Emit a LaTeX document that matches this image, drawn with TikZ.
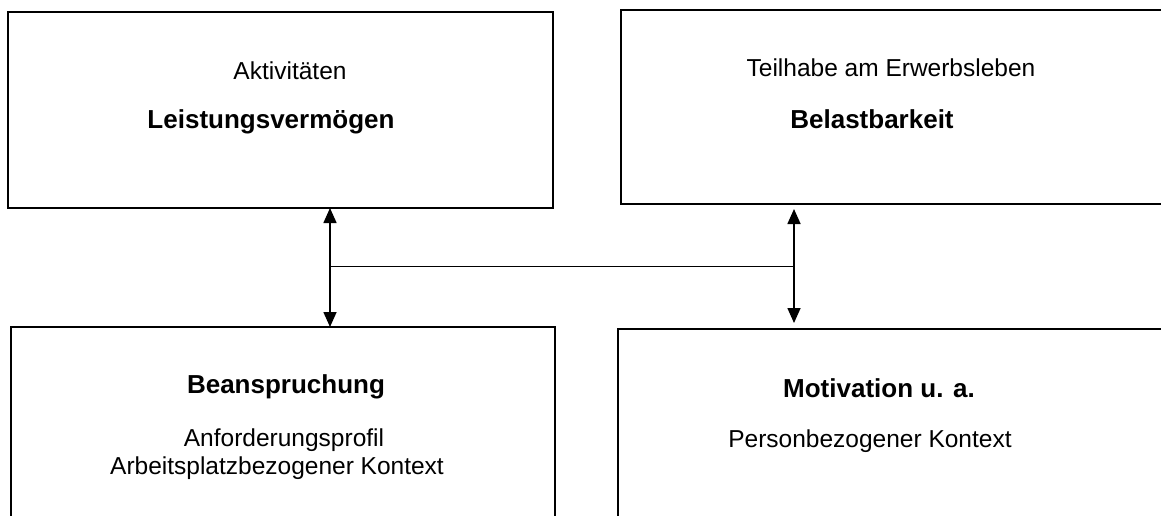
\documentclass[tikz,border=0pt]{standalone}
\usepackage{fontspec}
\setmainfont{Liberation Sans}
\usetikzlibrary{arrows.meta,fit}
\begin{document}
\begin{tikzpicture}[x=1pt,y=-1pt,
  box/.style={draw=black,line width=2pt,inner sep=0pt,rectangle},
  reg/.style={anchor=base,inner sep=0pt,font=\fontsize{24.5}{29}\selectfont},
  bld/.style={anchor=base,inner sep=0pt,font=\fontsize{26}{31}\selectfont\bfseries},
  dbl/.style={line width=1.6pt,{Triangle[width=13pt,length=15pt]}-{Triangle[width=13pt,length=15pt]}},
  link/.style={line width=1.4pt}]
\clip (0,0) rectangle (1161,515);
\coordinate (tla) at (8,12);   \coordinate (tlb) at (553,208);
\coordinate (tra) at (621,10); \coordinate (trb) at (1200,204);
\coordinate (bla) at (11,327); \coordinate (blb) at (555,540);
\coordinate (bra) at (618,329);\coordinate (brb) at (1190,540);
\node[box,fit=(tla)(tlb)] (tl) {};
\node[box,fit=(tra)(trb)] (tr) {};
\node[box,fit=(bla)(blb)] (bl) {};
\node[box,fit=(bra)(brb)] (br) {};
% texts
\node[reg] (t1) at (290,79) {Aktivitäten};
\node[bld] (t2) at (271,128) {Leistungsvermögen};
\node[reg] (t3) at (891,76) {Teilhabe am Erwerbsleben};
\node[bld] (t4) at (872,128) {Belastbarkeit};
\node[bld] (t5) at (286,393) {Beanspruchung};
\node[reg] (t6) at (284,446) {Anforderungsprofil};
\node[reg] (t7) at (277,474) {Arbeitsplatzbezogener Kontext};
\node[bld] (t8) at (879,397) {Motivation u. a.};
\node[reg] (t9) at (870,447) {Personbezogener Kontext};
% connectors
\coordinate (la) at (330,208); \coordinate (lb) at (330,327);
\coordinate (ra) at (794,209); \coordinate (rb) at (794,323);
\draw[dbl] (la) -- (lb);
\draw[dbl] (ra) -- (rb);
\coordinate (hl) at (330,266.5); \coordinate (hr) at (793,266.5);
\draw[link] (hl) -- (hr);
\end{tikzpicture}
\end{document}
